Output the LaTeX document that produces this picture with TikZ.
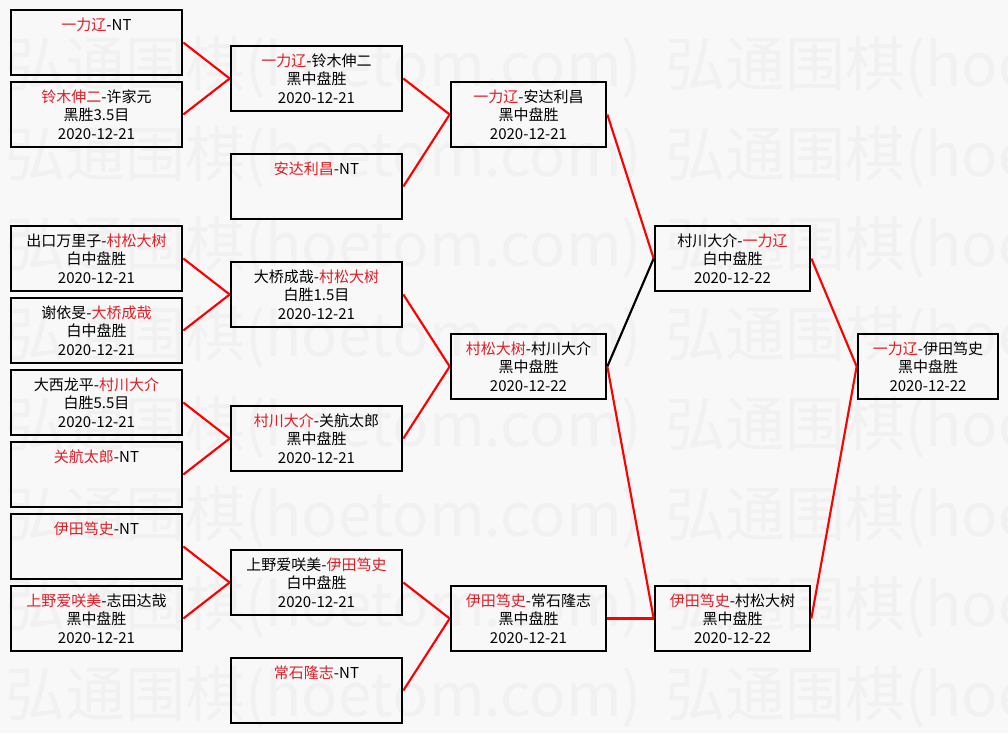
\documentclass[tikz,border=0pt]{standalone}
\usepackage{fontspec}
\setmainfont{Noto Sans CJK SC}
\definecolor{win}{RGB}{228,28,36}
\definecolor{bgc}{RGB}{248,248,248}
\definecolor{wmc}{RGB}{241,241,241}
\newcommand{\wn}[1]{\textcolor{win}{#1}}
\tikzset{
  game/.style={draw=black, line width=2pt, minimum height=48.75pt, inner sep=0pt,
    align=center, font=\fontsize{11.25}{13.9}\selectfont},
  wa/.style={game, minimum width=128.25pt},
  wb/.style={game, minimum width=116.25pt},
  wc/.style={game, minimum width=105pt},
  link/.style={draw=red, line width=1.6pt},
  lose/.style={draw=black, line width=1.6pt},
  wmtext/.style={anchor=west, inner sep=0pt, text=wmc, font=\fontsize{45}{45}\selectfont}
}
\begin{document}
\begin{tikzpicture}[x=0.75pt, y=-0.75pt]
\useasboundingbox (0,0) rectangle (1008,733);
\fill[bgc] (0,0) rectangle (1008,733);
\begin{scope}
\clip (0,0) rectangle (1008,733);
\foreach \yy in {67,157,...,697} {
  \foreach \xx in {5,665} {
    \node[wmtext] (wm-\xx-\yy) at (\xx,\yy) {弘通围棋(hoetom.com)};
  }
}
\end{scope}

% column 1
\node[wa] (a1) at (96.5,42.5)  {\wn{一力辽}-NT\\\mbox{}\\\mbox{}};
\node[wa] (a2) at (96.5,114.5) {\wn{铃木伸二}-许家元\\黑胜3.5目\\2020-12-21};
\node[wa] (a3) at (96.5,258.5) {出口万里子-\wn{村松大树}\\白中盘胜\\2020-12-21};
\node[wa] (a4) at (96.5,330.5) {谢依旻-\wn{大桥成哉}\\白中盘胜\\2020-12-21};
\node[wa] (a5) at (96.5,402.5) {大西龙平-\wn{村川大介}\\白胜5.5目\\2020-12-21};
\node[wa] (a6) at (96.5,474.5) {\wn{关航太郎}-NT\\\mbox{}\\\mbox{}};
\node[wa] (a7) at (96.5,546.5) {\wn{伊田笃史}-NT\\\mbox{}\\\mbox{}};
\node[wa] (a8) at (96.5,618.5) {\wn{上野爱咲美}-志田达哉\\黑中盘胜\\2020-12-21};

% column 2
\node[wa] (b1) at (316.5,78.5)  {\wn{一力辽}-铃木伸二\\黑中盘胜\\2020-12-21};
\node[wa] (b2) at (316.5,186.5) {\wn{安达利昌}-NT\\\mbox{}\\\mbox{}};
\node[wa] (b3) at (316.5,294.5) {大桥成哉-\wn{村松大树}\\白胜1.5目\\2020-12-21};
\node[wa] (b4) at (316.5,438.5) {\wn{村川大介}-关航太郎\\黑中盘胜\\2020-12-21};
\node[wa] (b5) at (316.5,582.5) {上野爱咲美-\wn{伊田笃史}\\白中盘胜\\2020-12-21};
\node[wa] (b6) at (316.5,690.5) {\wn{常石隆志}-NT\\\mbox{}\\\mbox{}};

% column 3
\node[wb] (c1) at (528.5,114.5) {\wn{一力辽}-安达利昌\\黑中盘胜\\2020-12-21};
\node[wb] (c2) at (528.5,366.5) {\wn{村松大树}-村川大介\\黑中盘胜\\2020-12-22};
\node[wb] (c3) at (528.5,618.5) {\wn{伊田笃史}-常石隆志\\黑中盘胜\\2020-12-21};

% column 4
\node[wb] (d1) at (732.5,258.5) {村川大介-\wn{一力辽}\\白中盘胜\\2020-12-22};
\node[wb] (d2) at (732.5,618.5) {\wn{伊田笃史}-村松大树\\黑中盘胜\\2020-12-22};

% column 5
\node[wc] (e1) at (928,366.5) {\wn{一力辽}-伊田笃史\\黑中盘胜\\2020-12-22};

% connectors
\draw[link] (a1.east) -- (b1.west);
\draw[link] (a2.east) -- (b1.west);
\draw[link] (a3.east) -- (b3.west);
\draw[link] (a4.east) -- (b3.west);
\draw[link] (a5.east) -- (b4.west);
\draw[link] (a6.east) -- (b4.west);
\draw[link] (a7.east) -- (b5.west);
\draw[link] (a8.east) -- (b5.west);
\draw[link] (b1.east) -- (c1.west);
\draw[link] (b2.east) -- (c1.west);
\draw[link] (b3.east) -- (c2.west);
\draw[link] (b4.east) -- (c2.west);
\draw[link] (b5.east) -- (c3.west);
\draw[link] (b6.east) -- (c3.west);
\draw[link] (c1.east) -- (d1.west);
\draw[lose] (c2.east) -- (d1.west);
\draw[link] (c2.east) -- (d2.west);
\draw[link] (c3.east) -- (d2.west);
\draw[link] (d1.east) -- (e1.west);
\draw[link] (d2.east) -- (e1.west);
\end{tikzpicture}
\end{document}
